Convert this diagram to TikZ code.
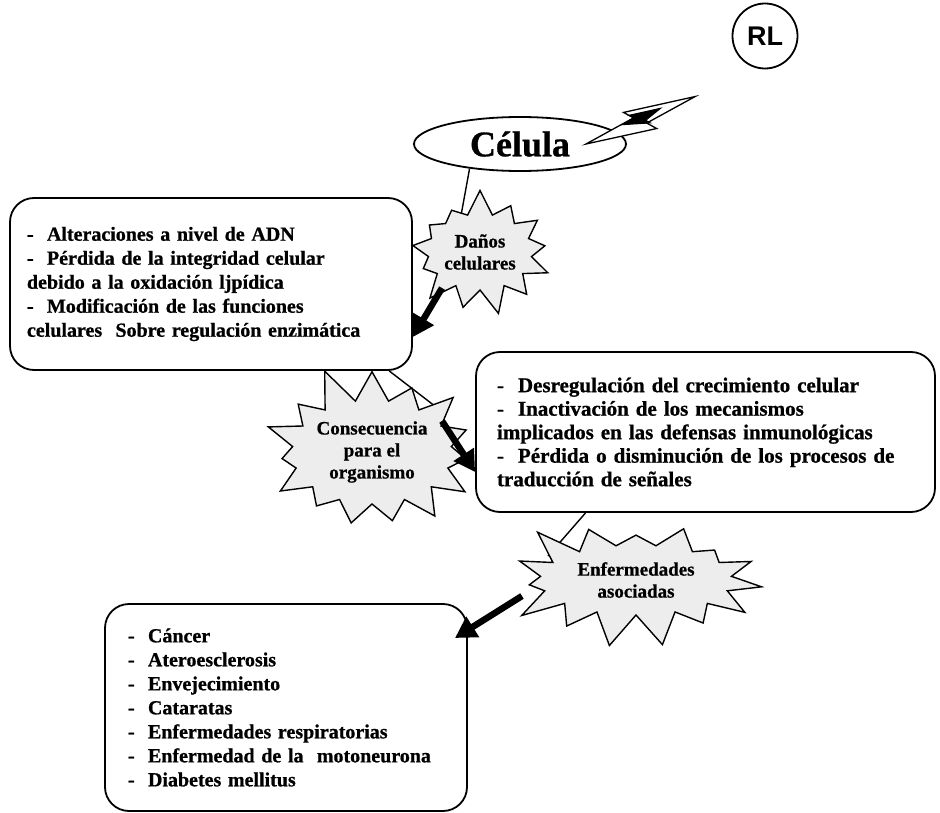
\documentclass[tikz,border=0pt]{standalone}
\usepackage{fontspec}
\setmainfont{Liberation Serif}[BoldFeatures={FakeBold=0.8}]
\newfontfamily\rlfont{Liberation Sans}
\usetikzlibrary{shapes.geometric,shapes.symbols,arrows.meta,backgrounds}
\begin{document}
\begin{tikzpicture}[x=1pt,y=-1pt,
  box/.style={draw,line width=1.8pt,rounded corners=24pt,align=left,
    font=\bfseries\fontsize{20}{24}\selectfont,inner ysep=0pt},
  burst/.style={starburst,draw,line width=1.4pt,fill=black!7,align=center,
    font=\bfseries\fontsize{19}{22}\selectfont,inner sep=1pt},
  link/.style={line width=1.4pt},
  bigarrow/.style={line width=6.5pt,-{Triangle[length=21pt,width=23pt]}},
]
\useasboundingbox (0,0) rectangle (940,813);

% top
\node[circle,draw,line width=1.8pt,minimum size=65pt,inner sep=0pt,
  font=\rlfont\bfseries\fontsize{27}{30}\selectfont] (rl) at (765,36) {RL};
\node[ellipse,draw,line width=1.8pt,minimum width=212pt,minimum height=54pt,inner sep=0pt,
  font=\bfseries\fontsize{36}{40}\selectfont] (cel) at (520,144) {Célula};

% boxes
\node[box,minimum width=402pt,minimum height=172pt,text width=368pt,inner xsep=17pt]
  (b1) at (211,284) {-\ \ Alteraciones a nivel de ADN\\
  -\ \ Pérdida de la integridad celular\\
  debido a la oxidación ljpídica\\
  -\ \ Modificación de las funciones\\
  celulares\ \ Sobre regulación enzimática};
\node[box,minimum width=459pt,minimum height=160pt,text width=417pt,inner xsep=21pt,
  font=\bfseries\fontsize{21}{23.5}\selectfont]
  (b2) at (705.5,432) {-\ \ Desregulación del crecimiento celular\\
  -\ \ Inactivación de los mecanismos\\
  implicados en las defensas inmunológicas\\
  -\ \ Pérdida o disminución de los procesos de\\
  traducción de señales};
\node[box,minimum width=362pt,minimum height=207pt,text width=316pt,inner xsep=23pt]
  (b3) at (286,707.5) {-\ \ Cáncer\\
  -\ \ Ateroesclerosis\\
  -\ \ Envejecimiento\\
  -\ \ Cataratas\\
  -\ \ Enfermedades respiratorias\\
  -\ \ Enfermedad de la\ \ motoneurona\\
  -\ \ Diabetes mellitus};

% bursts
\node[burst,starburst points=13,starburst point height=26pt,random starburst=7,
  minimum width=135pt,minimum height=128pt] (dan) at (480,252) {Daños\\celulares};
\node[burst,starburst points=15,starburst point height=38pt,random starburst=11,
  minimum width=200pt,minimum height=180pt] (con) at (372,452) {Consecuencia\\para el\\organismo};
\node[burst,starburst points=15,starburst point height=38pt,random starburst=23,
  minimum width=268pt,minimum height=146pt] (enf) at (636,580) {Enfermedades\\asociadas};

% thin connectors behind bursts
\coordinate (d0) at (458,232);
\coordinate (c0) at (440,410);
\coordinate (e0) at (548,556);
\begin{scope}[on background layer]
\draw[link] (cel.206) -- (d0);
\draw[link] (b1.334) -- (c0);
\draw[link] (b2.214.7) -- (e0);
\end{scope}

% lightning bolt from RL to cell
\coordinate (bolt) at (586,144);
\begin{scope}[shift={(bolt)},rotate=23.5,line width=1.3pt,line join=miter]
\draw[fill=white] (0,0) -- (54,-5) -- (47,-14) -- (119,0) -- (64,5) -- (71,14) -- cycle;
\draw[fill=black] (42,-3) -- (55,-5) -- (51,-9) -- (82,-3) -- (64,2) -- (67,6) -- cycle;
\end{scope}

% thick arrows
\coordinate (aA) at (442,288);
\coordinate (aB) at (442,421);
\coordinate (aC) at (522,596);
\draw[bigarrow] (aA) -- (b1.east |- 0,337);
\draw[bigarrow] (aB) -- (b2.west |- 0,472);
\draw[bigarrow] (aC) -- (455,638);
\end{tikzpicture}
\end{document}
